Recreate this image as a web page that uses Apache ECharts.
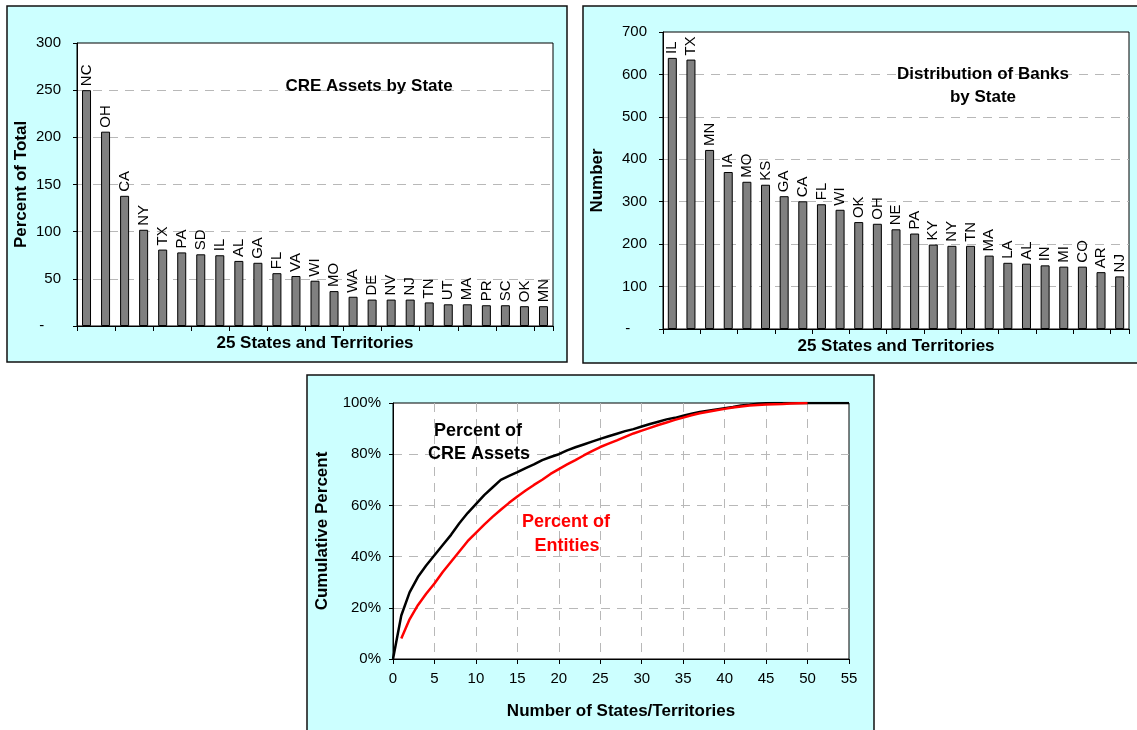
<!DOCTYPE html>
<html>
<head>
<meta charset="utf-8">
<script src="https://cdn.jsdelivr.net/npm/echarts@6/dist/echarts.min.js"></script>
<style>
html,body{margin:0;padding:0;background:#fff;}
#c{width:1137px;height:730px;}
</style>
</head>
<body>
<div id="c"></div>
<script>
// ---- data ----
const creStates = ['NC','OH','CA','NY','TX','PA','SD','IL','AL','GA','FL','VA','WI','MO','WA','DE','NV','NJ','TN','UT','MA','PR','SC','OK','MN'];
const creValues = [250,206,138,102,81,78,76,75,69,67,56,53,48,37,31,28,28,28,25,23,23,22,22,21,21];

const bankStates = ['IL','TX','MN','IA','MO','KS','GA','CA','FL','WI','OK','OH','NE','PA','KY','NY','TN','MA','LA','AL','IN','MI','CO','AR','NJ'];
const bankValues = [639,635,422,370,347,340,313,301,294,281,252,248,235,225,199,196,196,173,156,154,150,147,147,134,124];

// cumulative percent, CRE assets: states 0..55
const creCumulative = [0,17,26,32,36.5,40.5,44.5,48.5,53,57,60.5,64,67,70,71.5,73,74.6,76,77.7,78.9,80,81.5,82.7,83.8,84.9,86,87,88,89,89.8,90.8,91.8,92.7,93.6,94.2,95,95.8,96.5,97,97.5,98,98.4,99,99.3,99.7,99.9,100,100,100,100,100,100,100,100,100,100];
const creCumStart = 0;
// cumulative percent, entities: states 1..50
const entCumulative = [8,15.5,21,25.5,29.5,34,38,42,46,49.3,52.5,55.5,58.3,61,63.5,65.8,68,70,72.3,74.2,76,77.7,79.5,81.2,82.8,84.1,85.4,86.8,88.1,89.2,90.3,91.4,92.4,93.4,94.3,95.2,96,96.6,97.2,97.7,98.2,98.6,99,99.2,99.4,99.5,99.6,99.8,99.9,100];
const entCumStart = 1;

const yTicksCre = {min:0, max:300, interval:50};
const yTicksBank = {min:0, max:700, interval:100};
const xTicksCum = {min:0, max:55, interval:5};
const yTicksCum = {min:0, max:100, interval:20};

// ---- chart ----
const FONT = "'Liberation Sans', Arial, sans-serif";
const chart = echarts.init(document.getElementById('c'), null, {renderer:'canvas'});

const dash = v => v === 0 ? '-    ' : String(v);
const splitDash = {show:true, showMinLine:false, showMaxLine:false, lineStyle:{color:'#b8b8b8', type:[9,7], width:1}};
const nameStyle = {fontFamily:FONT, fontWeight:'bold', fontSize:17, color:'#000'};
const labelStyle = {fontFamily:FONT, fontSize:15, color:'#000'};
const blackLine = {lineStyle:{color:'#000', width:1}};

function panel(x, y, w, h){
  return {type:'rect', z:-100, shape:{x:x, y:y, width:w, height:h},
    style:{fill:'#CCFFFF', stroke:'#111', lineWidth:1.5}};
}
function txt(s, x, y, size, color){
  return {type:'text', z:100, x:x, y:y, style:{text:s, fill:color||'#000',
    font:'bold ' + size + 'px ' + FONT, textAlign:'center', textVerticalAlign:'middle'}};
}

const barLabel = {show:true, formatter:'{b}', position:'top', rotate:90, align:'left', verticalAlign:'middle',
  distance:4, fontFamily:FONT, fontSize:15, color:'#000'};
const barItem = {color:'#808080', borderColor:'#000', borderWidth:1};

const option = {
  animation:false,
  backgroundColor:'#fff',
  graphic:[
    panel(7, 6, 560, 356),
    panel(583, 6, 560, 357),
    panel(307, 375, 567, 360),
    txt('CRE Assets by State', 369, 86, 17),
    txt('Distribution of Banks', 983, 74, 17),
    txt('by State', 983, 97.5, 17),
    txt('Percent of', 478, 431, 18),
    txt('CRE Assets', 479, 454, 18),
    txt('Percent of', 566, 522, 18, '#ff0000'),
    txt('Entities', 567, 546, 18, '#ff0000')
  ],
  grid:[
    {left:77, top:43, width:476, height:283, show:true, backgroundColor:'#fff', borderColor:'#000', borderWidth:1},
    {left:663, top:32, width:466, height:297, show:true, backgroundColor:'#fff', borderColor:'#000', borderWidth:1},
    {left:393, top:403, width:456, height:256, show:true, backgroundColor:'#fff', borderColor:'#000', borderWidth:1}
  ],
  xAxis:[
    {type:'category', gridIndex:0, data:creStates, axisLabel:{show:false},
     axisTick:{show:true, length:5, lineStyle:{color:'#000'}}, axisLine:blackLine,
     name:'25 States and Territories', nameLocation:'middle', nameGap:9, nameTextStyle:nameStyle},
    {type:'category', gridIndex:1, data:bankStates, axisLabel:{show:false},
     axisTick:{show:true, length:5, lineStyle:{color:'#000'}}, axisLine:blackLine,
     name:'25 States and Territories', nameLocation:'middle', nameGap:9, nameTextStyle:nameStyle},
    {type:'value', gridIndex:2, min:xTicksCum.min, max:xTicksCum.max, interval:xTicksCum.interval,
     axisLine:blackLine, axisTick:{show:true, length:5, lineStyle:{color:'#000'}},
     axisLabel:Object.assign({margin:12}, labelStyle), splitLine:splitDash,
     name:'Number of States/Territories', nameLocation:'middle', nameGap:44, nameTextStyle:nameStyle}
  ],
  yAxis:[
    {type:'value', gridIndex:0, min:yTicksCre.min, max:yTicksCre.max, interval:yTicksCre.interval,
     axisLine:{show:true, lineStyle:{color:'#000'}}, axisTick:{show:true, length:4, lineStyle:{color:'#000'}},
     axisLabel:Object.assign({margin:16, formatter:dash}, labelStyle), splitLine:splitDash,
     name:'Percent of Total', nameLocation:'middle', nameGap:47, nameTextStyle:nameStyle},
    {type:'value', gridIndex:1, min:yTicksBank.min, max:yTicksBank.max, interval:yTicksBank.interval,
     axisLine:{show:true, lineStyle:{color:'#000'}}, axisTick:{show:true, length:4, lineStyle:{color:'#000'}},
     axisLabel:Object.assign({margin:16, formatter:dash}, labelStyle), splitLine:splitDash,
     name:'Number', nameLocation:'middle', nameGap:57, nameTextStyle:nameStyle},
    {type:'value', gridIndex:2, min:yTicksCum.min, max:yTicksCum.max, interval:yTicksCum.interval,
     axisLine:{show:true, lineStyle:{color:'#000'}}, axisTick:{show:true, length:4, lineStyle:{color:'#000'}},
     axisLabel:Object.assign({margin:12, formatter:'{value}%'}, labelStyle), splitLine:splitDash,
     name:'Cumulative Percent', nameLocation:'middle', nameGap:62, nameTextStyle:nameStyle}
  ],
  series:[
    {type:'bar', xAxisIndex:0, yAxisIndex:0, data:creValues, barWidth:9, itemStyle:barItem, label:barLabel},
    {type:'bar', xAxisIndex:1, yAxisIndex:1, data:bankValues, barWidth:9, itemStyle:barItem, label:barLabel},
    {type:'line', xAxisIndex:2, yAxisIndex:2, showSymbol:false, symbol:'none',
     data:creCumulative.map((v,i)=>[i+creCumStart, v]), lineStyle:{color:'#000', width:2.5}},
    {type:'line', xAxisIndex:2, yAxisIndex:2, showSymbol:false, symbol:'none',
     data:entCumulative.map((v,i)=>[i+entCumStart, v]), lineStyle:{color:'#ff0000', width:2.5}}
  ]
};
chart.setOption(option);
</script>
</body>
</html>
